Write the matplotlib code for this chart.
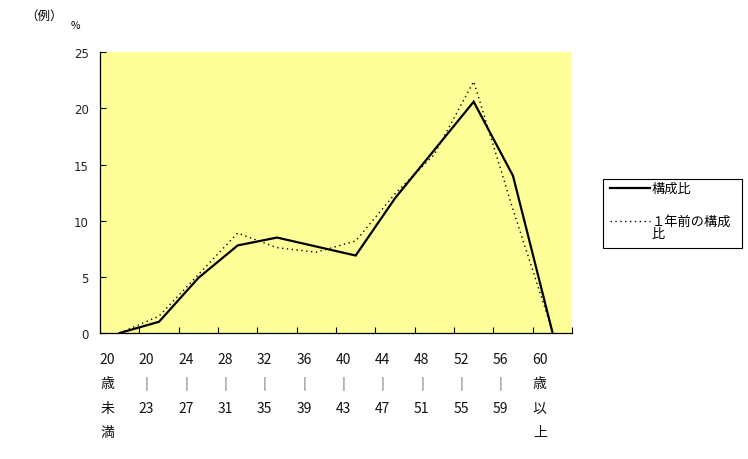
import matplotlib
matplotlib.use("Agg")
import matplotlib.pyplot as plt
import matplotlib.transforms as mtransforms
from matplotlib.lines import Line2D
from matplotlib.patches import Rectangle

plt.rcParams['font.family'] = ['Noto Sans CJK JP', 'DejaVu Sans']

# age groups (tick labels, stacked vertically)
age_labels = ["20\n歳\n未\n満", "20\n｜\n23", "24\n｜\n27", "28\n｜\n31",
              "32\n｜\n35", "36\n｜\n39", "40\n｜\n43", "44\n｜\n47",
              "48\n｜\n51", "52\n｜\n55", "56\n｜\n59", "60\n歳\n以\n上"]
# composition ratio (%)
ratio_now = [0.0, 1.0, 4.9, 7.8, 8.5, 7.7, 6.9, 12.0, 16.3, 20.6, 14.0, 0.1]
ratio_prev = [0.0, 1.5, 5.2, 8.9, 7.6, 7.2, 8.2, 12.4, 15.9, 22.4, 11.0, 0.2]
y_ticks = [0, 5, 10, 15, 20, 25]
legend_labels = ["構成比", "１年前の構成\n比"]

W, H = 748, 460
fig = plt.figure(figsize=(W / 100, H / 100), dpi=100)
ax = fig.add_axes([100 / W, 1 - 334 / H, 472 / W, (334 - 53.3) / H])
ax.set_facecolor('#FFFF99')

dotted = (0, (1, 2.5))
x = list(range(len(age_labels)))
ax.plot(x, ratio_now, color='black', lw=1.6, solid_joinstyle='miter')
ax.plot(x, ratio_prev, color='black', lw=1.0, linestyle=dotted)

ax.set_xlim(-0.5, len(age_labels) - 0.5)
ax.set_ylim(0, 25)
ax.set_yticks(y_ticks)
ax.set_yticklabels([str(v) for v in y_ticks], family='DejaVu Sans', fontsize=8.5, color='#222222')
ax.tick_params(axis='y', direction='in', length=4, width=0.8, pad=8)

# tick marks between categories, labels drawn separately
ax.set_xticks([i - 0.5 for i in range(len(age_labels) + 1)])
ax.set_xticklabels([])
ax.tick_params(axis='x', direction='in', length=4, width=0.8)

for s in ['top', 'right']:
    ax.spines[s].set_visible(False)
for s in ['left', 'bottom']:
    ax.spines[s].set_linewidth(0.9)

line_h = 24.3
for i, lab in enumerate(age_labels):
    for j, part in enumerate(lab.split('\n')):
        off = mtransforms.ScaledTranslation(-12.5 / 100, -(26 + j * line_h) / 100, fig.dpi_scale_trans)
        ax.text(i, 0, part, transform=ax.get_xaxis_transform() + off,
                ha='center', va='center', fontsize=10, color='#111111')

fig.text(25 / W, 1 - 16 / H, "（例）", fontsize=9, va='center', ha='left')
fig.text(75 / W, 1 - 26 / H, "%", fontsize=7.5, va='center', ha='center')

# legend box drawn by hand (pixel layout of the original)
def px(xp, yp):
    return xp / W, 1 - yp / H

x0, y0 = px(603, 249)
x1, y1 = px(742, 180)
fig.add_artist(Rectangle((x0, y0), x1 - x0, y1 - y0, transform=fig.transFigure,
                         facecolor='white', edgecolor='black', lw=0.8))
for (yp, ls, lw), lab in zip([(189, '-', 1.6), (222, dotted, 1.0)], legend_labels):
    xa, ya = px(610, yp)
    xb, _ = px(650, yp)
    fig.add_artist(Line2D([xa, xb], [ya, ya], transform=fig.transFigure,
                          color='black', lw=lw, linestyle=ls))
    for k, part in enumerate(lab.split('\n')):
        fig.text(652 / W, ya - k * 12.5 / H, part, fontsize=9.5,
                 va='center', ha='left')

fig.savefig('out.png', dpi=100, facecolor='white')
